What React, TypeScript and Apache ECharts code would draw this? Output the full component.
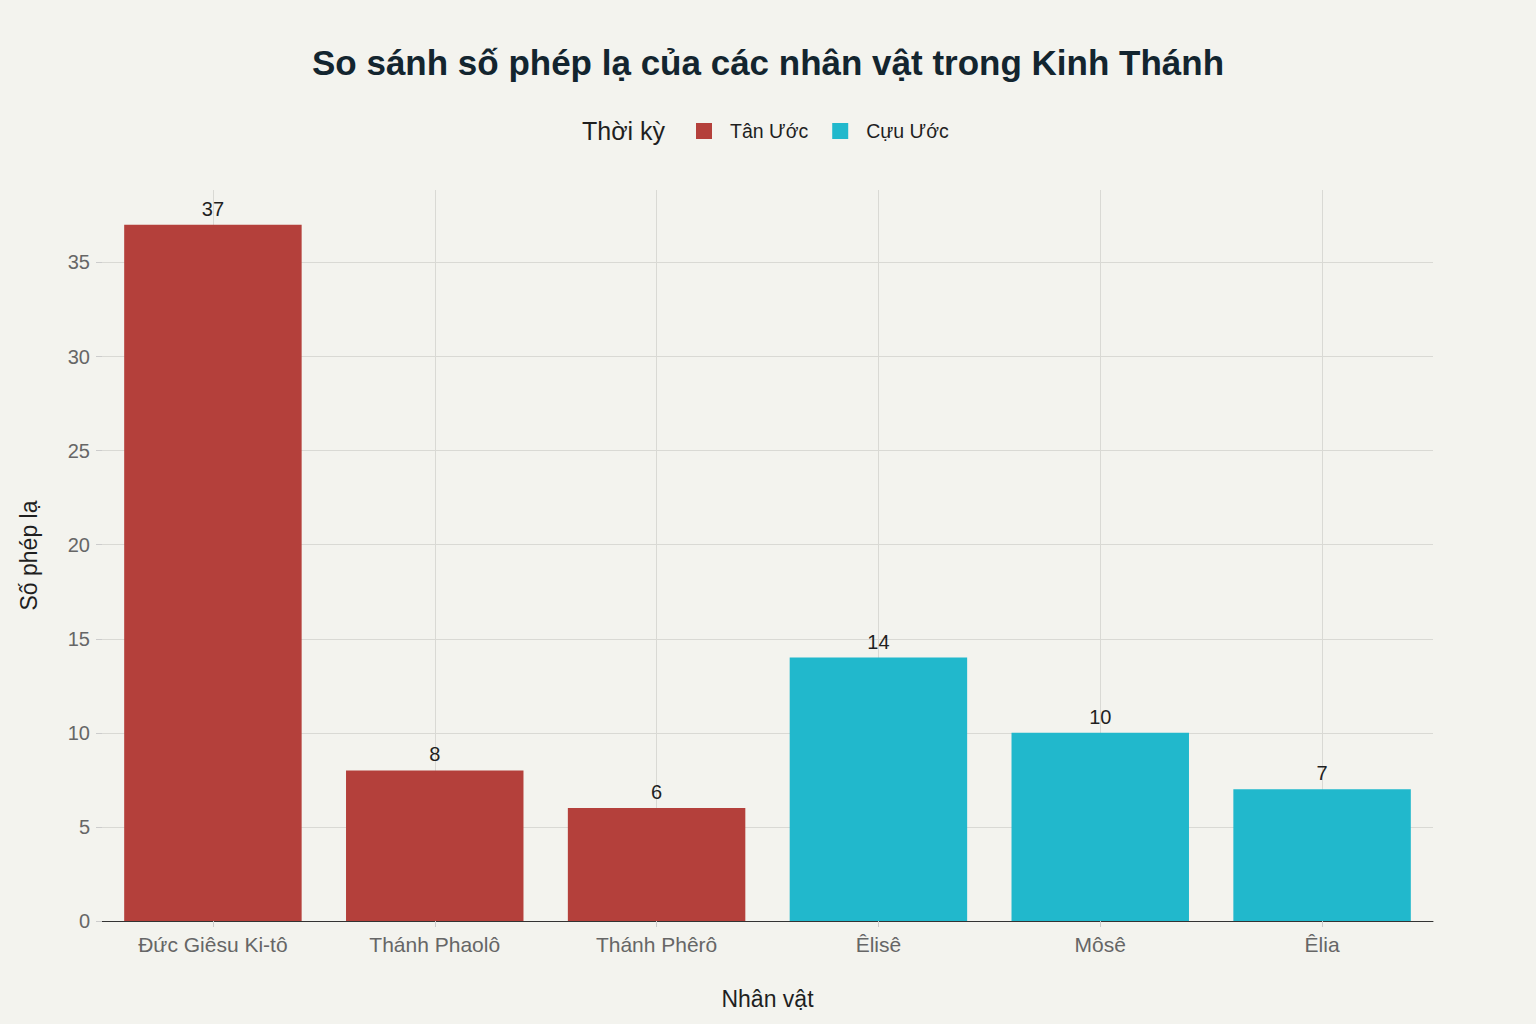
import { useEffect, useRef } from "react";
import * as echarts from "echarts";

const characters = ["Đức Giêsu Ki-tô", "Thánh Phaolô", "Thánh Phêrô", "Êlisê", "Môsê", "Êlia"];
const newTestament = [37, 8, 6, null, null, null];
const oldTestament = [null, null, null, 14, 10, 7];
const seriesNames = ["Tân Ước", "Cựu Ước"];
const colors = ["#b4403b", "#21b8cc"];

const FONT = "'Liberation Sans', Arial, sans-serif";

export default function App() {
  const ref = useRef<HTMLDivElement>(null);

  useEffect(() => {
    if (!ref.current) return;
    document.body.style.margin = "0";
    const chart = echarts.init(ref.current, undefined, { renderer: "svg" });
    const barLabel = {
      show: true,
      position: "top",
      distance: 6,
      color: "#1f1f1f",
      fontSize: 20,
      fontFamily: FONT,
    };
    chart.setOption({
      animation: false,
      backgroundColor: "#f3f3ee",
      textStyle: { fontFamily: FONT },
      title: {
        text: "So sánh số phép lạ của các nhân vật trong Kinh Thánh",
        left: "center",
        top: 40,
        textStyle: { fontSize: 35, fontWeight: "bold", color: "#13252f", fontFamily: FONT },
      },
      graphic: [
        {
          type: "text",
          left: 582,
          top: 118,
          style: { text: "Thời kỳ", fontSize: 25, fill: "#1f1f1f", fontFamily: FONT },
        },
      ],
      legend: {
        left: 691,
        top: 116,
        icon: "rect",
        itemWidth: 16,
        itemHeight: 16,
        itemGap: 24,
        data: seriesNames,
        textStyle: { fontSize: 19.5, color: "#1f1f1f", padding: [0, 0, 0, 13], fontFamily: FONT },
      },
      grid: { left: 102, right: 103, top: 190, bottom: 103, containLabel: false },
      xAxis: {
        type: "category",
        data: characters,
        name: "Nhân vật",
        nameLocation: "middle",
        nameGap: 66,
        nameTextStyle: { fontSize: 23, color: "#1f1f1f" },
        axisLine: { show: true, lineStyle: { color: "#333", width: 1 } },
        axisTick: { show: true, alignWithLabel: true, length: 6, lineStyle: { color: "#ccc" } },
        axisLabel: { fontSize: 21, color: "#666", margin: 13 },
        splitLine: { show: true, alignWithLabel: true, lineStyle: { color: "#d9d9d4" } },
      },
      yAxis: {
        type: "value",
        min: 0,
        max: 38.85,
        interval: 5,
        name: "Số phép lạ",
        nameLocation: "middle",
        nameGap: 62,
        nameTextStyle: { fontSize: 23, color: "#1f1f1f" },
        axisLine: { show: false },
        axisTick: { show: true, length: 6, lineStyle: { color: "#ccc" } },
        axisLabel: { fontSize: 20, color: "#666", margin: 12, showMaxLabel: false },
        splitLine: { show: true, showMaxLine: false, lineStyle: { color: "#d9d9d4" } },
      },
      series: [
        {
          name: seriesNames[0],
          type: "bar",
          stack: "total",
          barWidth: "80%",
          data: newTestament,
          itemStyle: { color: colors[0] },
          label: barLabel,
        },
        {
          name: seriesNames[1],
          type: "bar",
          stack: "total",
          barWidth: "80%",
          data: oldTestament,
          itemStyle: { color: colors[1] },
          label: barLabel,
        },
      ],
    });
    const resize = () => chart.resize();
    window.addEventListener("resize", resize);
    return () => {
      window.removeEventListener("resize", resize);
      chart.dispose();
    };
  }, []);

  return <div ref={ref} style={{ width: "100vw", height: "100vh" }} />;
}
